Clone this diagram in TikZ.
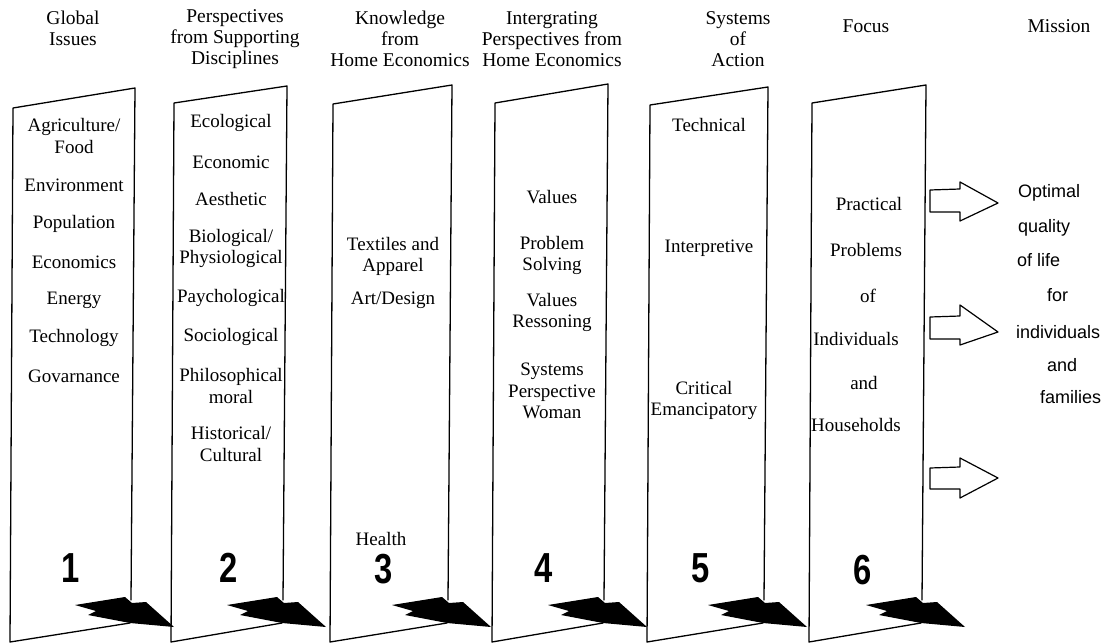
\documentclass[tikz,border=0pt]{standalone}
\usepackage{fontspec}
\setmainfont{Liberation Serif}
\setsansfont{Liberation Sans}

\begin{document}
\begin{tikzpicture}[x=1pt,y=-1pt,line join=round,line cap=round]
		  \tikzstyle{every node}=[inner sep=0pt,align=center,text=black,
		                          font=\fontsize{19}{21.5}\selectfont]
		  \tikzstyle{head}=[font=\fontsize{19.5}{21}\selectfont]
		  \tikzstyle{num}=[font=\fontsize{42}{42}\sffamily\bfseries,xscale=0.78]
		  \tikzstyle{goal}=[anchor=west,font=\fontsize{18}{20}\sffamily]
		  \tikzstyle{panel}=[draw=black,line width=1.3pt]
		  \tikzstyle{hollow}=[draw=black,line width=1.2pt,fill=white]

		  \useasboundingbox (0,0) rectangle (1107,644);

		  % the six panels, each with its black arrow at the foot
		  \foreach \l/\r/\tl/\tr in {13/135/108/88, 174/287/103/86, 333/452/104/85,
		                             495/608/103/84, 650/768/105/87, 812/926/103/85}{
		    \draw[panel] (\r-4,600) -- (\r,\tr) -- (\l,\tl) -- (\l-3,642) -- (\r-5,623);
		    \fill[black,shift={(\r-5,623)}] (-55,-18) -- (-5,-26) -- (2,-20) -- (16,-21)
		      -- (44,4) -- (0,0) -- (-42,-8) -- (-34,-12) -- cycle;
		  }

		  % headings
		  \node[head] (h1) at (73,28.5)  {Global\\Issues};
		  \node[head] (h2) at (235,39)   {Perspectives\\from Supporting\\Disciplines};
		  \node[head] (h3) at (400,39)   {Knowledge\\from\\Home Economics};
		  \node[head] (h4) at (552,39)   {Intergrating\\Perspectives from\\Home Economics};
		  \node[head] (h5) at (738,39)   {Systems\\of\\Action};
		  \node[head] (h6) at (866,26)   {Focus};
		  \node[head] (h7) at (1059,26)  {Mission};

		  % panel 1
		  \node (agri) at (74,136) {Agriculture/\\Food};
		  \node (envi) at (74,185) {Environment};
		  \node (popu) at (74,224) {Population};
		  \node (econ) at (74,262) {Economics};
		  \node (ener) at (74,300) {Energy};
		  \node (tech) at (74,338) {Technology};
		  \node (gove) at (74,376) {Govarnance};
		  \node[num] (n1) at (71,568) {1};

		  % panel 2
		  \node (ecol) at (231,123) {Ecological};
		  \node (ecom) at (231,162) {Economic};
		  \node (aest) at (231,199) {Aesthetic};
		  \node (biol) at (231,248.5) {Biological/\\Physiological};
		  \node (psyc) at (231,298) {Paychological};
		  \node (soci) at (231,337) {Sociological};
		  \node (phil) at (231,386) {Philosophical\\moral};
		  \node (hist) at (231,444) {Historical/\\Cultural};
		  \node[num] (n2) at (229,568) {2};

		  % panel 3
		  \node (text) at (393,256.5) {Textiles and\\Apparel};
		  \node (art)  at (393,300) {Art/Design};
		  \node (heal) at (381,539) {Health};
		  \node[num] (n3) at (384,569) {3};

		  % panel 4
		  \node (valu) at (552,197) {Values};
		  \node (prob) at (552,255.5) {Problem\\Solving};
		  \node (reas) at (552,312.5) {Values\\Ressoning};
		  \node (syst) at (552,391) {Systems\\Perspective\\Woman};
		  \node[num] (n4) at (544,568) {4};

		  % panel 5
		  \node (tecn) at (709,125) {Technical};
		  \node (inte) at (709,248) {Interpretive};
		  \node (crit) at (704,400.5) {Critical\\Emancipatory};
		  \node[num] (n5) at (701,568) {5};

		  % panel 6
		  \node (prac) at (869,204) {Practical};
		  \node (prbs) at (866,250) {Problems};
		  \node (of)   at (868,296) {of};
		  \node (indi) at (856,339) {Individuals};
		  \node (and)  at (864,383) {and};
		  \node (hous) at (856,425) {Households};
		  \node[num] (n6) at (863,570) {6};

		  % hollow arrows into the mission
		  \draw[hollow] (930,190) -- (960,189) -- (960,182) -- (998,203) -- (960,221)
		    -- (960,212) -- (930,212) -- cycle;
		  \draw[hollow] (930,317) -- (960,316) -- (960,305) -- (998,332) -- (960,345)
		    -- (960,339) -- (930,339) -- cycle;
		  \draw[hollow] (930,468) -- (960,467) -- (960,458) -- (998,478) -- (960,498)
		    -- (960,489) -- (930,489) -- cycle;

		  % mission
		  \node[goal] (opti) at (1018,193) {Optimal};
		  \node[goal] (qual) at (1018,228) {quality};
		  \node[goal] (life) at (1017,260) {of life};
		  \node[goal] (for)  at (1047,295) {for};
		  \node[goal] (ind)  at (1016,332) {individuals};
		  \node[goal] (mand) at (1047,365) {and};
		  \node[goal] (fami) at (1040,397) {families};
\end{tikzpicture}
\end{document}
